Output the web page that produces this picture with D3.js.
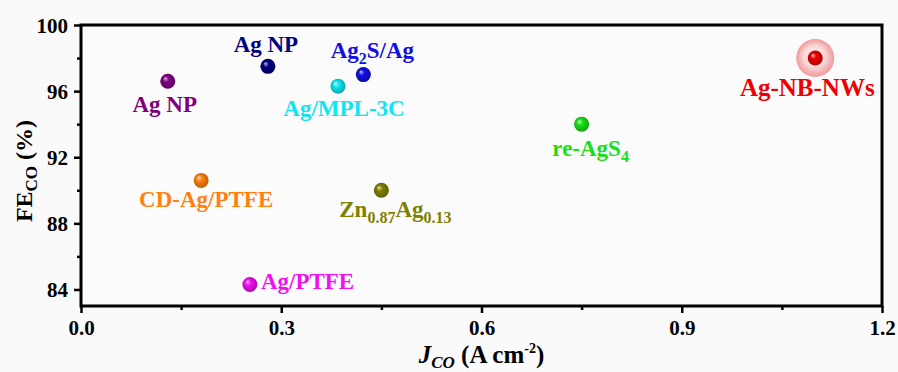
<!DOCTYPE html>
<html>
<head>
<meta charset="utf-8">
<script src="https://cdn.jsdelivr.net/npm/d3@7"></script>
<style>
  html, body { margin: 0; padding: 0; background: #fafafa; }
  svg { display: block; }
  text { font-family: "Liberation Serif", "Times New Roman", serif; font-weight: bold; }
</style>
</head>
<body>
<svg id="chart" width="898" height="372"></svg>
<script>
// Silver-based CO2-to-CO catalysts: partial current density vs. Faradaic efficiency
const catalysts = ["Ag NP", "Ag NP", "Ag_2S/Ag", "Ag/MPL-3C", "re-AgS_4", "Ag-NB-NWs", "CD-Ag/PTFE", "Zn_0.87Ag_0.13", "Ag/PTFE"];
const jCO  = [0.13, 0.28, 0.423, 0.385, 0.75, 1.10, 0.18, 0.45, 0.253];
const feCO = [96.6, 97.5, 97.0, 96.3, 94.0, 98.0, 90.6, 90.0, 84.3];
const xTicks = [0.0, 0.3, 0.6, 0.9, 1.2];
const xMinorTicks = [0.15, 0.45, 0.75, 1.05];
const yTicks = [84, 88, 92, 96, 100];
const yMinorTicks = [86, 90, 94, 98];

// Styling
const colors = ["#800080", "#000080", "#1010e0", "#10e6f0", "#18e018", "#ee0000", "#ff8010", "#808000", "#f010f0"];
// label offset from the marker centre (px), text-anchor and font size
const labelLayout = [
  {dx: -3, dy: 31, anchor: "middle", size: 23},
  {dx: -2, dy: -14, anchor: "middle", size: 23},
  {dx: 9, dy: -17, anchor: "middle", size: 23},
  {dx: 6, dy: 30, anchor: "middle", size: 23},
  {dx: 9, dy: 32, anchor: "middle", size: 23},
  {dx: -8, dy: 38, anchor: "middle", size: 25},
  {dx: 5, dy: 27, anchor: "middle", size: 23},
  {dx: 14, dy: 27, anchor: "middle", size: 23},
  {dx: 11, dy: 4, anchor: "start", size: 23}
];

const svg = d3.select("#chart");
const margin = {left: 81, right: 16, top: 25, bottom: 66};
const W = 898, H = 372;
const x = d3.scaleLinear().domain([0, 1.2]).range([margin.left, W - margin.right]);
const y = d3.scaleLinear().domain([83, 100]).range([H - margin.bottom, margin.top]);

// sphere gradients
const defs = svg.append("defs");
colors.forEach((c, i) => {
  const g = defs.append("radialGradient").attr("id", "ball" + i)
    .attr("cx", "0.5").attr("cy", "0.5").attr("r", "0.55")
    .attr("fx", "0.32").attr("fy", "0.3");
  g.append("stop").attr("offset", "0%").attr("stop-color", d3.interpolateRgb(c, "#ffffff")(0.75));
  g.append("stop").attr("offset", "35%").attr("stop-color", c);
  g.append("stop").attr("offset", "100%").attr("stop-color", d3.interpolateRgb(c, "#000000")(0.3));
});
const halo = defs.append("radialGradient").attr("id", "halo")
  .attr("cx", "0.5").attr("cy", "0.5").attr("r", "0.5").attr("fx", "0.45").attr("fy", "0.4");
halo.append("stop").attr("offset", "0%").attr("stop-color", "#fff6f6");
halo.append("stop").attr("offset", "55%").attr("stop-color", "#fbd8d8");
halo.append("stop").attr("offset", "100%").attr("stop-color", "#ef9a9a");

// plot background
svg.append("rect").attr("x", x(0)).attr("y", y(100))
  .attr("width", x(1.2) - x(0)).attr("height", y(83) - y(100))
  .attr("fill", "#fbfbfb");

// axes
const axisStyle = g => {
  g.selectAll(".domain").remove();
  g.selectAll(".tick line").attr("stroke", "#000").attr("stroke-width", 2.5);
  g.selectAll(".tick text").attr("fill", "#000").attr("font-size", 21)
    .style("font-family", "'Liberation Serif', serif").style("font-weight", "bold");
};
svg.append("g").attr("transform", `translate(0,${y(83)})`)
  .call(d3.axisBottom(x).tickValues(xTicks).tickFormat(d3.format(".1f")).tickSize(7).tickPadding(7))
  .call(axisStyle);
svg.append("g").attr("transform", `translate(0,${y(83)})`)
  .call(d3.axisBottom(x).tickValues(xMinorTicks).tickFormat("").tickSize(4))
  .call(axisStyle);
svg.append("g").attr("transform", `translate(${x(0)},0)`)
  .call(d3.axisLeft(y).tickValues(yTicks).tickFormat(d3.format("d")).tickSize(7).tickPadding(6))
  .call(axisStyle)
  .selectAll(".tick text").attr("dy", "0.34em");
svg.append("g").attr("transform", `translate(${x(0)},0)`)
  .call(d3.axisLeft(y).tickValues(yMinorTicks).tickFormat("").tickSize(4))
  .call(axisStyle);

// frame
svg.append("rect").attr("x", x(0)).attr("y", y(100))
  .attr("width", x(1.2) - x(0)).attr("height", y(83) - y(100))
  .attr("fill", "none").attr("stroke", "#000").attr("stroke-width", 3);

// highlight halo for this work
const hi = catalysts.indexOf("Ag-NB-NWs");
svg.append("circle").attr("cx", x(jCO[hi])).attr("cy", y(feCO[hi])).attr("r", 19)
  .attr("fill", "url(#halo)");

// markers
svg.append("g").selectAll("circle").data(catalysts).join("circle")
  .attr("cx", (d, i) => x(jCO[i]))
  .attr("cy", (d, i) => y(feCO[i]))
  .attr("r", 7.5)
  .attr("fill", (d, i) => `url(#ball${i})`);

// labels with subscripts ("_" introduces a numeric subscript)
function writeRich(textSel, str, size, subSize) {
  const parts = str.split(/_([0-9.]+)/);
  parts.forEach((p, k) => {
    if (!p) return;
    const isSub = k % 2 === 1;
    const t = textSel.append("tspan").text(p).attr("font-size", isSub ? subSize : size);
    if (isSub) t.attr("dy", 6);
    else if (k >= 2) t.attr("dy", -6);
  });
}
catalysts.forEach((name, i) => {
  const L = labelLayout[i];
  const t = svg.append("text")
    .attr("x", x(jCO[i]) + L.dx).attr("y", y(feCO[i]) + L.dy)
    .attr("text-anchor", L.anchor).attr("fill", colors[i]).attr("font-size", L.size);
  writeRich(t, name, L.size, 16);
});

// axis titles
const yt = svg.append("text")
  .attr("transform", `translate(32,171) rotate(-90)`)
  .attr("text-anchor", "middle").attr("fill", "#000").attr("font-size", 24);
yt.append("tspan").text("FE");
yt.append("tspan").text("CO").attr("font-size", 17).attr("dy", 5);
yt.append("tspan").text(" (%)").attr("dy", -5);

const xt = svg.append("text")
  .attr("x", (x(0) + x(1.2)) / 2).attr("y", 363)
  .attr("text-anchor", "middle").attr("fill", "#000").attr("font-size", 25);
xt.append("tspan").text("J").attr("font-style", "italic");
xt.append("tspan").text("CO").attr("font-style", "italic").attr("font-size", 17).attr("dy", 5);
xt.append("tspan").text(" (A cm").attr("dy", -5);
xt.append("tspan").text("-2").attr("font-size", 14).attr("dy", -10);
xt.append("tspan").text(")").attr("dy", 10);
</script>
</body>
</html>
